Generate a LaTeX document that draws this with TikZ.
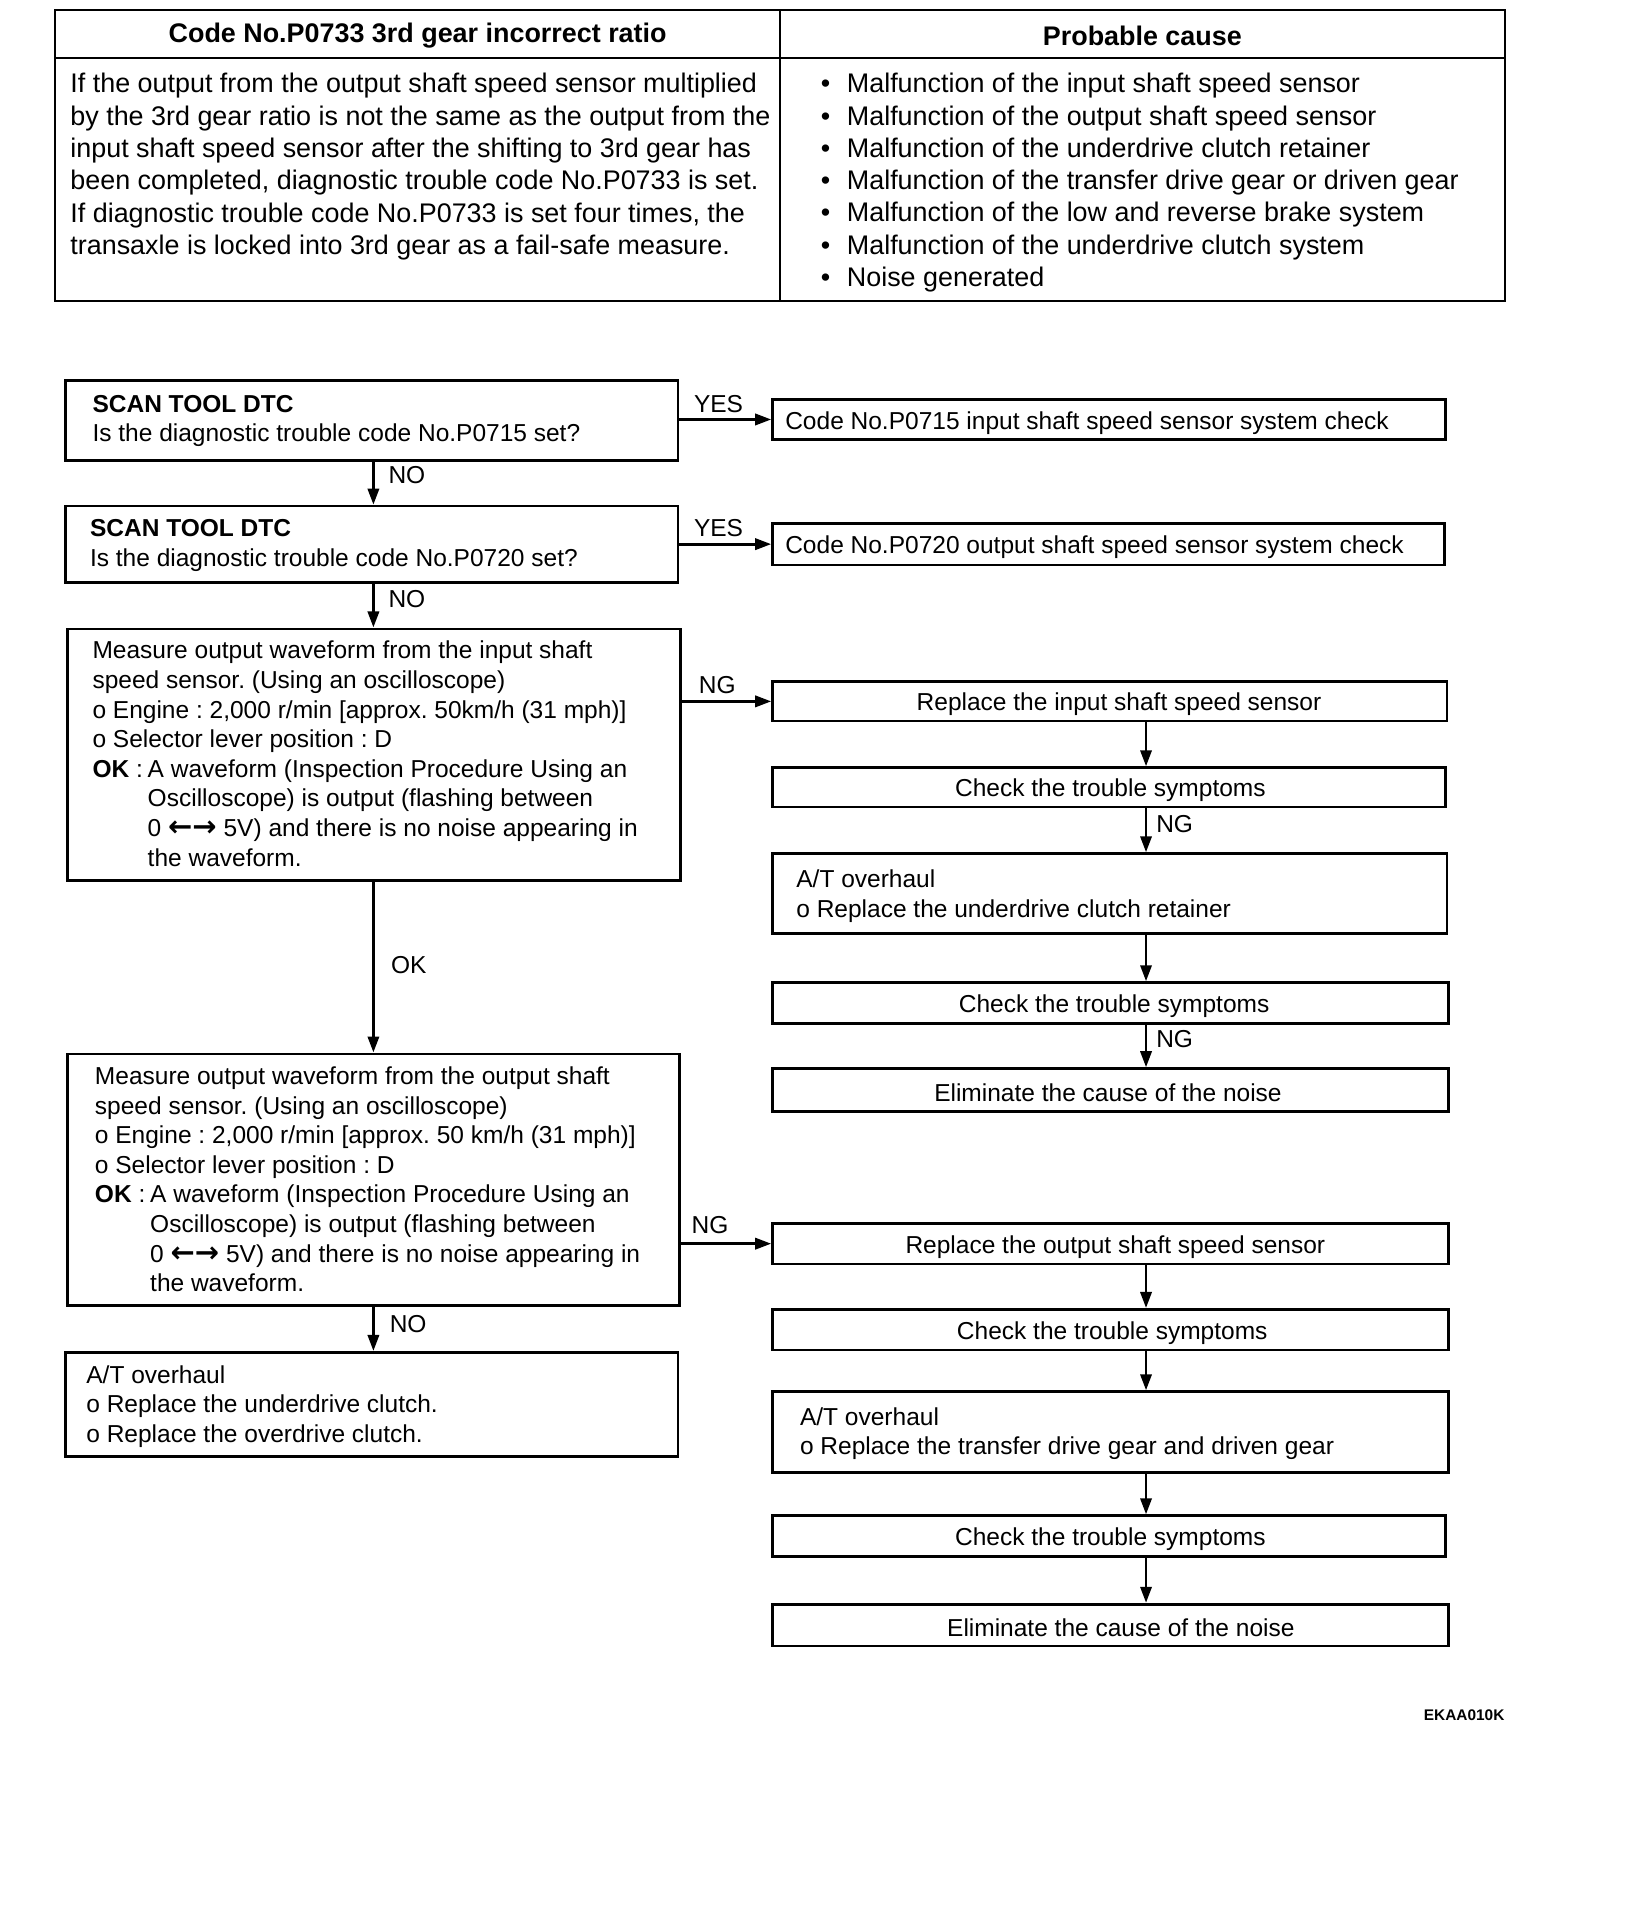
\documentclass[tikz,border=0pt]{standalone}
\usepackage{fontspec}
\setmainfont{Liberation Sans}
\newfontfamily\arrowfont{DejaVu Sans}
\usetikzlibrary{arrows.meta,fit}
\frenchspacing
\newcommand\flowfont{\fontsize{12.25pt}{14.8pt}\selectfont\frenchspacing}
\newcommand\tabfont{\fontsize{13.45pt}{16.15pt}\selectfont\frenchspacing}
\newcommand\okhead{\makebox[27.6pt][l]{\textbf{OK} :}}
\newcommand\okind{\hspace*{27.6pt}}
\newcommand\lr{{\arrowfont\bfseries\fontsize{14.5pt}{14.8pt}\selectfont ←→}}
\newcommand\bul{\makebox[13pt][l]{•}}
\begin{document}
\begin{tikzpicture}[x=0.614pt,y=-0.614pt,
  box/.style={draw, line width=1.4pt, inner sep=0pt},
  cell/.style={draw, line width=1pt, inner sep=0pt},
  txt/.style={inner sep=0pt, align=left, anchor=west, font=\flowfont, yshift=-1.5pt},
  ctr/.style={inner sep=0pt, font=\flowfont, yshift=-1.5pt},
  ttxt/.style={inner sep=0pt, align=left, anchor=west, font=\tabfont, yshift=-1.3pt},
  hdr/.style={inner sep=0pt, font=\tabfont\bfseries, yshift=-0.6pt},
  lbl/.style={inner sep=0pt, font=\flowfont, yshift=-0.6pt},
  arr/.style={line width=1.4pt, -{Triangle[length=8pt,width=5.6pt]}},
]
\useasboundingbox[fill=white] (0,0) rectangle (1342,1568);

% ---------- table ----------
\node[cell, fit={(45,8) (635,47)}] (h1) {};
\node[cell, fit={(635,8) (1225,47)}] (h2) {};
\node[cell, fit={(45,47) (635,245)}] (c1) {};
\node[cell, fit={(635,47) (1225,245)}] (c2) {};
\node[hdr] (th1) at (340,28) {Code No.P0733 3rd gear incorrect ratio};
\node[hdr] (th2) at (930,28) {Probable cause};
\node[ttxt] (tl) at (57,134) {\strut If the output from the output shaft speed sensor multiplied\\
by the 3rd gear ratio is not the same as the output from the\\
input shaft speed sensor after the shifting to 3rd gear has\\
been completed, diagnostic trouble code No.P0733 is set.\\
If diagnostic trouble code No.P0733 is set four times, the\\
transaxle is locked into 3rd gear as a fail-safe measure.\strut};
\node[ttxt] (tr) at (668,147) {\strut\bul Malfunction of the input shaft speed sensor\\
\bul Malfunction of the output shaft speed sensor\\
\bul Malfunction of the underdrive clutch retainer\\
\bul Malfunction of the transfer drive gear or driven gear\\
\bul Malfunction of the low and reverse brake system\\
\bul Malfunction of the underdrive clutch system\\
\bul Noise generated\strut};

% ---------- left column ----------
\node[box, fit={(53,310) (552,375)}] (b1) {};
\node[txt] (tb1) at (75,340.5) {\strut\textbf{SCAN TOOL DTC}\\Is the diagnostic trouble code No.P0715 set?\strut};
\node[box, fit={(53,412) (552,474)}] (b2) {};
\node[txt] (tb2) at (73,441.5) {\strut\textbf{SCAN TOOL DTC}\\Is the diagnostic trouble code No.P0720 set?\strut};
\node[box, fit={(55,512) (554,717)}] (b3) {};
\node[txt] (tb3) at (75,613.5) {\strut Measure output waveform from the input shaft\\
speed sensor. (Using an oscilloscope)\\
o Engine : 2,000 r/min [approx. 50km/h (31 mph)]\\
o Selector lever position : D\\
\okhead A waveform (Inspection Procedure Using an\\
\okind Oscilloscope) is output (flashing between\\
\okind 0 \lr\ 5V) and there is no noise appearing in\\
\okind the waveform.\strut};
\node[box, fit={(55,858) (553,1063)}] (b4) {};
\node[txt] (tb4) at (77,960) {\strut Measure output waveform from the output shaft\\
speed sensor. (Using an oscilloscope)\\
o Engine : 2,000 r/min [approx. 50 km/h (31 mph)]\\
o Selector lever position : D\\
\okhead A waveform (Inspection Procedure Using an\\
\okind Oscilloscope) is output (flashing between\\
\okind 0 \lr\ 5V) and there is no noise appearing in\\
\okind the waveform.\strut};
\node[box, fit={(53,1101) (552,1186)}] (a3) {};
\node[txt] (ta3) at (70,1143) {\strut A/T overhaul\\
o Replace the underdrive clutch.\\
o Replace the overdrive clutch.\strut};

% ---------- right column ----------
\node[box, fit={(629,325) (1177,358)}] (y1) {};
\node[txt] (ty1) at (639,342) {Code No.P0715 input shaft speed sensor system check};
\node[box, fit={(629,426) (1176,460)}] (y2) {};
\node[txt] (ty2) at (639,443) {Code No.P0720 output shaft speed sensor system check};

\node[box, fit={(629,555) (1178,587)}] (r1) {};
\node[ctr] (tr1) at (911,571) {Replace the input shaft speed sensor};
\node[box, fit={(629,625) (1177,657)}] (k1) {};
\node[ctr] (tk1) at (904,641) {Check the trouble symptoms};
\node[box, fit={(629,695) (1178,760)}] (o1) {};
\node[txt] (to1) at (648,727.5) {\strut A/T overhaul\\o Replace the underdrive clutch retainer\strut};
\node[box, fit={(629,800) (1179,833)}] (k2) {};
\node[ctr] (tk2) at (907,816.5) {Check the trouble symptoms};
\node[box, fit={(629,870) (1179,905)}] (e1) {};
\node[ctr] (te1) at (902,887.5) {Eliminate the cause of the noise};

\node[box, fit={(629,996) (1179,1029)}] (r2) {};
\node[ctr] (tr2) at (908,1012.5) {Replace the output shaft speed sensor};
\node[box, fit={(629,1066) (1179,1099)}] (k3) {};
\node[ctr] (tk3) at (905.5,1082.5) {Check the trouble symptoms};
\node[box, fit={(629,1133) (1179,1199)}] (o2) {};
\node[txt] (to2) at (651,1165) {\strut A/T overhaul\\o Replace the transfer drive gear and driven gear\strut};
\node[box, fit={(629,1234) (1177,1267)}] (k4) {};
\node[ctr] (tk4) at (904,1250.5) {Check the trouble symptoms};
\node[box, fit={(629,1306) (1179,1340)}] (e2) {};
\node[ctr] (te2) at (912.5,1323) {Eliminate the cause of the noise};

\node[inner sep=0pt, font=\fontsize{7.7pt}{9pt}\selectfont\bfseries] (code) at (1192,1396) {EKAA010K};

% ---------- connectors ----------
\coordinate (lx) at (304,0);
\coordinate (rx) at (933,0);
\draw[arr] (b1.south -| lx) -- (b2.north -| lx);
\draw[arr] (b2.south -| lx) -- (b3.north -| lx);
\draw[arr] (b3.south -| lx) -- (b4.north -| lx);
\draw[arr] (b4.south -| lx) -- (a3.north -| lx);
\draw[arr] (y1.west -| b1.east) -- (y1.west);
\draw[arr] (y2.west -| b2.east) -- (y2.west);
\draw[arr] (r1.west -| b3.east) -- (r1.west);
\draw[arr] (r2.west -| b4.east) -- (r2.west);
\draw[arr] (r1.south -| rx) -- (k1.north -| rx);
\draw[arr] (k1.south -| rx) -- (o1.north -| rx);
\draw[arr] (o1.south -| rx) -- (k2.north -| rx);
\draw[arr] (k2.south -| rx) -- (e1.north -| rx);
\draw[arr] (r2.south -| rx) -- (k3.north -| rx);
\draw[arr] (k3.south -| rx) -- (o2.north -| rx);
\draw[arr] (o2.south -| rx) -- (k4.north -| rx);
\draw[arr] (k4.south -| rx) -- (e2.north -| rx);

% ---------- labels ----------
\node[lbl] (l1) at (585,328) {YES};
\node[lbl] (l2) at (585,429) {YES};
\node[lbl, anchor=west] (l3) at (316,386) {NO};
\node[lbl, anchor=west] (l4) at (316,487) {NO};
\node[lbl] (l5) at (584,557) {NG};
\node[lbl] (l6) at (578,996) {NG};
\node[lbl, anchor=west] (l7) at (941,670) {NG};
\node[lbl, anchor=west] (l8) at (941,845) {NG};
\node[lbl, anchor=west] (l9) at (318,785) {OK};
\node[lbl, anchor=west] (l10) at (317,1077) {NO};
\end{tikzpicture}
\end{document}
